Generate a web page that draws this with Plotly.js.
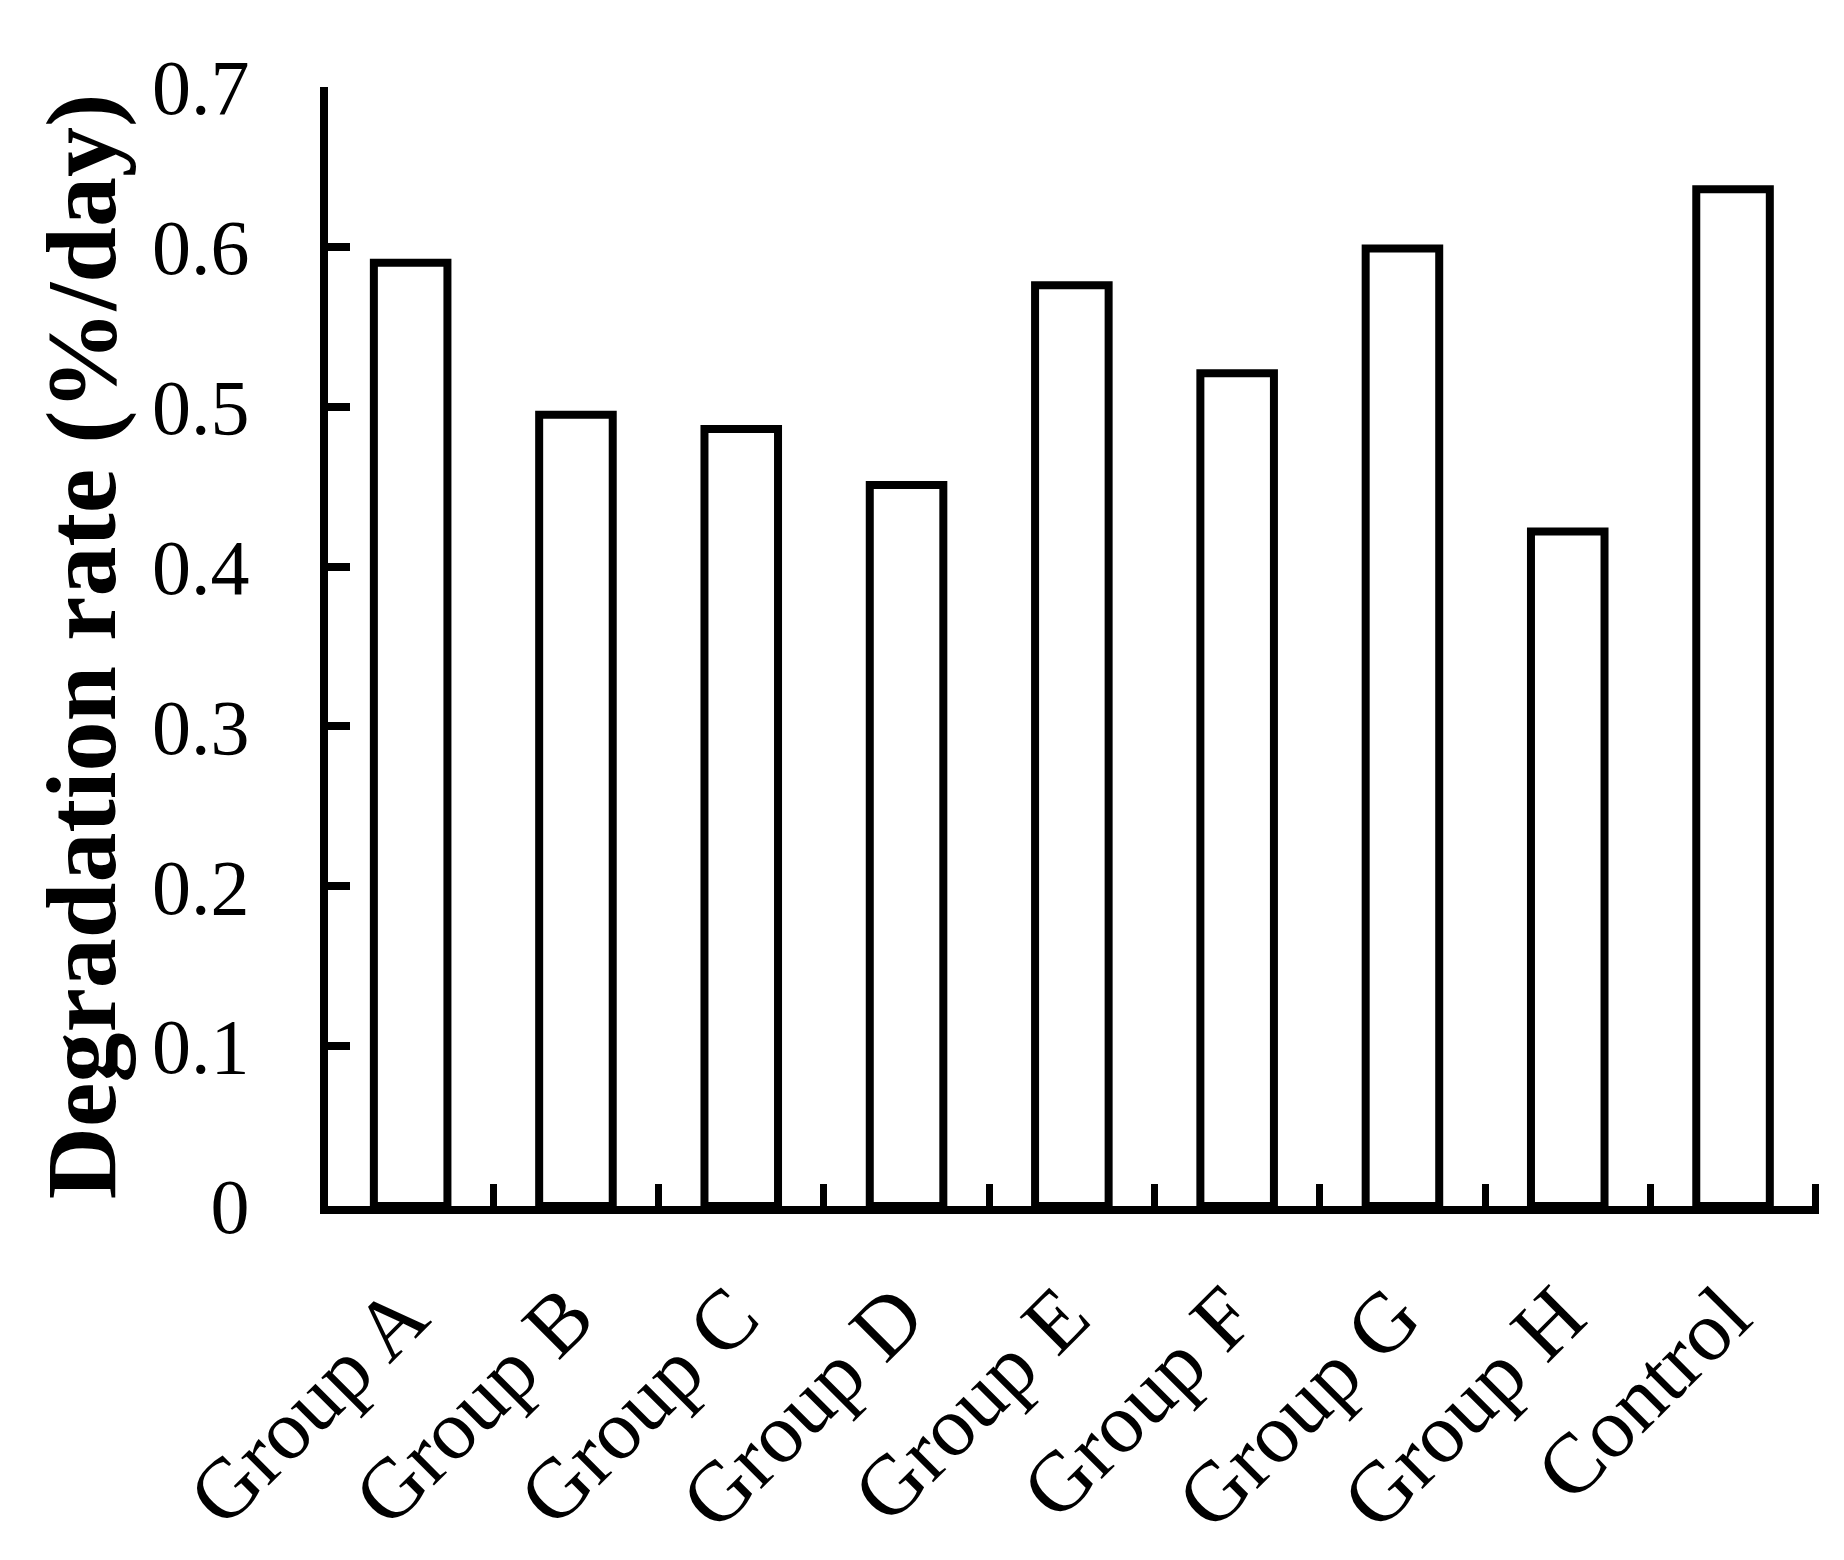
<!DOCTYPE html>
<html>
<head>
<meta charset="utf-8">
<script src="https://cdn.plot.ly/plotly-3.0.1.min.js"></script>
<style>html,body{margin:0;padding:0;background:#fff;}#chart{width:1844px;height:1560px;}</style>
</head>
<body>
<div id="chart"></div>
<script>
const categories = ["Group A", "Group B", "Group C", "Group D", "Group E", "Group F", "Group G", "Group H", "Control"];
const degradationRate = [0.590, 0.495, 0.486, 0.451, 0.576, 0.521, 0.599, 0.422, 0.636];
const yTickValues = [0, 0.1, 0.2, 0.3, 0.4, 0.5, 0.6, 0.7];
const yTickLabels = ["0", "0.1", "0.2", "0.3", "0.4", "0.5", "0.6", "0.7"];

const serif = "Liberation Serif, Times New Roman, serif";

const trace = {
  type: "bar",
  x: categories,
  y: degradationRate,
  marker: { color: "#ffffff", line: { color: "#000000", width: 8 } },
  hoverinfo: "skip"
};

const layout = {
  width: 1844,
  height: 1560,
  paper_bgcolor: "#ffffff",
  plot_bgcolor: "#ffffff",
  margin: { l: 328, r: 25, t: 87, b: 354 },
  showlegend: false,
  bargap: 0.555,
  xaxis: {
    type: "category",
    range: [-0.5, categories.length - 0.48],
    showline: true, linecolor: "#000", linewidth: 8,
    ticks: "inside", tickson: "boundaries", ticklen: 22, tickwidth: 7, tickcolor: "#000",
    tickangle: -45,
    ticklabelstandoff: 18,
    ticklabelshift: -8,
    tickfont: { family: serif, size: 85, color: "#000" },
    showgrid: false, zeroline: false, fixedrange: true, automargin: false
  },
  yaxis: {
    range: [0, 0.7],
    tickvals: yTickValues, ticktext: yTickLabels,
    showline: true, linecolor: "#000", linewidth: 8,
    ticks: "inside", ticklen: 22, tickwidth: 8, tickcolor: "#000",
    ticklabelstandoff: 55,
    tickfont: { family: serif, size: 78, color: "#000" },
    title: { text: "<b>Degradation rate (%/day)</b>", font: { family: serif, size: 100, color: "#000" }, standoff: 6 },
    showgrid: false, zeroline: false, fixedrange: true, automargin: false
  }
};

Plotly.newPlot("chart", [trace], layout, { staticPlot: true, displayModeBar: false });
</script>
</body>
</html>
